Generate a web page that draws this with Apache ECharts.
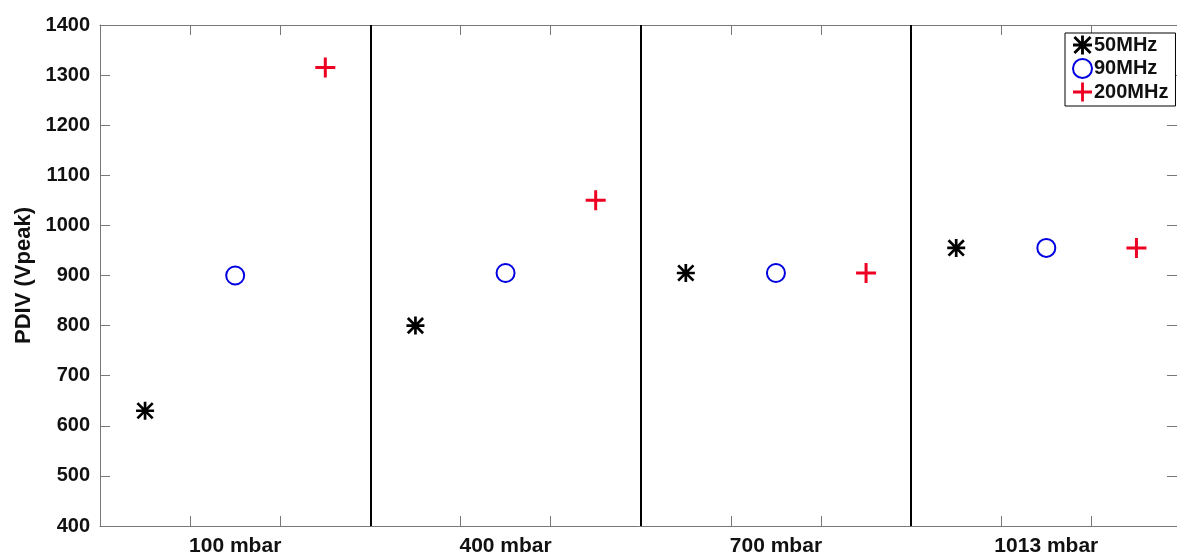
<!DOCTYPE html>
<html>
<head>
<meta charset="utf-8">
<script src="https://cdn.jsdelivr.net/npm/echarts@6/dist/echarts.min.js"></script>
<style>
html,body{margin:0;padding:0;background:#fff;}
#chart{width:1177px;height:558px;}
</style>
</head>
<body>
<div id="chart"></div>
<script>
// ---- data ----
const groups = ['100 mbar', '400 mbar', '700 mbar', '1013 mbar'];
const seriesNames = ['50MHz', '90MHz', '200MHz'];
const values50 = [630, 800, 905, 955];
const values90 = [900, 905, 905, 955];
const values200 = [1315, 1050, 905, 955];
const yTicks = [400, 500, 600, 700, 800, 900, 1000, 1100, 1200, 1300, 1400];
const separators = [3, 6, 9];

const FONT = '"Liberation Sans", Arial, Helvetica, sans-serif';
const starPath = 'path://M8.5 0L11.5 0L11.5 20L8.5 20Z M0 8.5L20 8.5L20 11.5L0 11.5Z M2.56 0.44L19.56 17.44L17.44 19.56L0.44 2.56Z M17.44 0.44L19.56 2.56L2.56 19.56L0.44 17.44Z';
const plusPath = 'path://M8.5 0L11.5 0L11.5 20L8.5 20Z M0 8.5L20 8.5L20 11.5L0 11.5Z';

function pts(vals, s) {
  return vals.map((v, g) => [g * 3 + s + 0.5, v]);
}
const tickVals = [];
for (let i = 1; i < 12; i++) tickVals.push(i);
const labelVals = groups.map((g, i) => i * 3 + 1.5);

const axisGrey = '#777';
const chart = echarts.init(document.getElementById('chart'));
chart.setOption({
  animation: false,
  backgroundColor: '#fff',
  grid: { left: 100, right: 0, top: 25, bottom: 32, containLabel: false },
  legend: {
    left: 1065, top: 33, orient: 'vertical',
    backgroundColor: '#fff', borderColor: '#000', borderWidth: 1,
    borderRadius: 0,
    padding: [2, 7, 4, 7],
    itemWidth: 19, itemHeight: 19, itemGap: 3,
    textStyle: { fontFamily: FONT, fontWeight: 'bold', fontSize: 20, color: '#111', lineHeight: 19, padding: [0, 0, 0, -3] },
    data: seriesNames
  },
  xAxis: [
    {
      type: 'value', position: 'bottom', min: 0, max: 11.95,
      axisLine: { show: true, onZero: false, lineStyle: { color: axisGrey, width: 1 } },
      axisTick: { show: true, inside: true, length: 10, customValues: tickVals, lineStyle: { color: axisGrey } },
      axisLabel: {
        show: true, customValues: labelVals, margin: 10,
        fontFamily: FONT, fontWeight: 'bold', fontSize: 21, color: '#111',
        formatter: v => groups[Math.round((v - 1.5) / 3)]
      },
      splitLine: { show: false }
    },
    {
      type: 'value', position: 'top', min: 0, max: 11.95,
      axisLine: { show: true, onZero: false, lineStyle: { color: axisGrey, width: 1 } },
      axisTick: { show: true, inside: true, length: 10, customValues: tickVals, lineStyle: { color: axisGrey } },
      axisLabel: { show: false },
      splitLine: { show: false }
    }
  ],
  yAxis: [
    {
      type: 'value', position: 'left', min: 400, max: 1400, interval: 100,
      name: 'PDIV (Vpeak)', nameLocation: 'middle', nameGap: 52, nameRotate: 90,
      nameTextStyle: { fontFamily: FONT, fontWeight: 'bold', fontSize: 22, color: '#111' },
      axisLine: { show: true, onZero: false, lineStyle: { color: axisGrey, width: 1 } },
      axisTick: { show: true, inside: true, length: 10, lineStyle: { color: axisGrey } },
      axisLabel: {
        fontFamily: FONT, fontWeight: 'bold', fontSize: 20, color: '#111', margin: 10,
        customValues: yTicks, formatter: v => String(v)
      },
      splitLine: { show: false }
    },
    {
      type: 'value', position: 'right', min: 400, max: 1400, interval: 100,
      axisLine: { show: false, onZero: false },
      axisTick: { show: true, inside: true, length: 10, lineStyle: { color: axisGrey } },
      axisLabel: { show: false },
      splitLine: { show: false }
    }
  ],
  series: [
    {
      name: seriesNames[0], type: 'scatter', symbol: starPath, symbolSize: 18,
      itemStyle: { color: '#000', opacity: 1 },
      data: pts(values50, 0),
      markLine: {
        silent: true, symbol: 'none', label: { show: false },
        lineStyle: { color: '#000', width: 2, type: 'solid' },
        data: separators.map(x => ({ xAxis: x }))
      }
    },
    {
      name: seriesNames[1], type: 'scatter', symbol: 'emptyCircle', symbolSize: 18,
      itemStyle: { color: '#0000e0', borderColor: '#0000e0', borderWidth: 2.5, opacity: 1 },
      data: pts(values90, 1)
    },
    {
      name: seriesNames[2], type: 'scatter', symbol: plusPath, symbolSize: 20,
      itemStyle: { color: '#ee0022', opacity: 1 },
      data: pts(values200, 2)
    }
  ]
});
</script>
</body>
</html>
